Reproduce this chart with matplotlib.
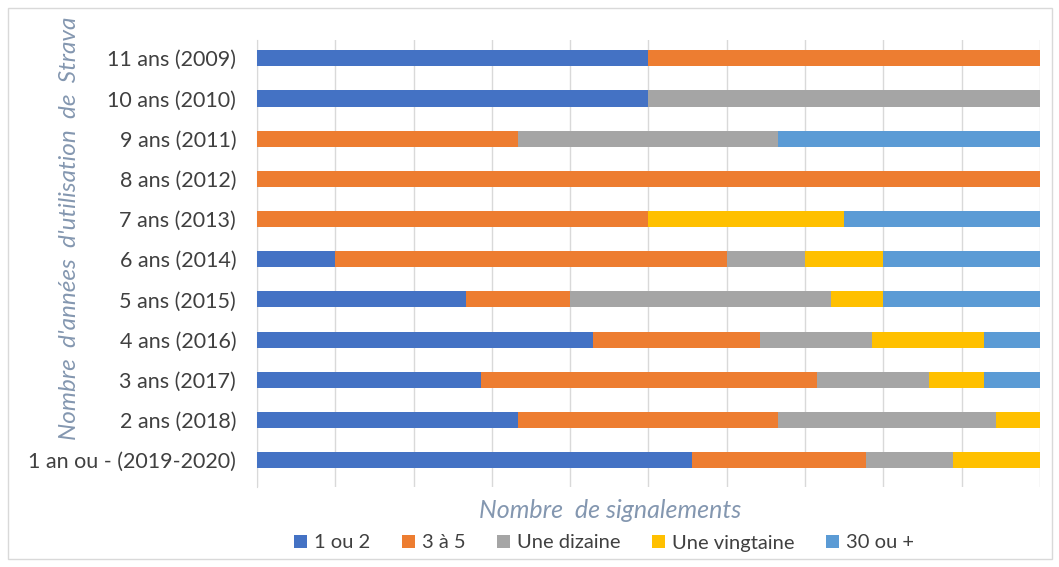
import matplotlib.pyplot as plt
from matplotlib.patches import Rectangle

# data (percent of reports per group), bottom to top
categories = ["1 an ou - (2019-2020)", "2 ans (2018)", "3 ans (2017)", "4 ans (2016)",
              "5 ans (2015)", "6 ans (2014)", "7 ans (2013)", "8 ans (2012)",
              "9 ans (2011)", "10 ans (2010)", "11 ans (2009)"]
un_ou_deux = [55.6, 33.3, 28.6, 42.9, 26.7, 10.0, 0.0, 0.0, 0.0, 50.0, 50.0]
trois_a_cinq = [22.2, 33.3, 42.9, 21.4, 13.3, 50.0, 50.0, 100.0, 33.3, 0.0, 50.0]
une_dizaine = [11.1, 27.8, 14.3, 14.3, 33.3, 10.0, 0.0, 0.0, 33.3, 50.0, 0.0]
une_vingtaine = [11.1, 5.6, 7.1, 14.3, 6.7, 10.0, 25.0, 0.0, 0.0, 0.0, 0.0]
trente_plus = [0.0, 0.0, 7.1, 7.1, 20.0, 20.0, 25.0, 0.0, 33.4, 0.0, 0.0]

series_names = ["1 ou 2", "3 à 5", "Une dizaine", "Une vingtaine", "30 ou +"]
series = [un_ou_deux, trois_a_cinq, une_dizaine, une_vingtaine, trente_plus]
colors = ["#4472C4", "#ED7D31", "#A5A5A5", "#FFC000", "#5B9BD5"]

plt.rcParams['font.family'] = ['Lato', 'DejaVu Sans']

fig = plt.figure(figsize=(10.59, 5.67), dpi=100)
ax = fig.add_axes([0.2427, 0.141, 0.7393, 0.788])

y = list(range(len(categories)))
left = [0.0] * len(categories)
for name, vals, col in zip(series_names, series, colors):
    ax.barh(y, vals, left=left, height=0.4, color=col, label=name, zorder=3)
    left = [a + b for a, b in zip(left, vals)]

ax.set_xlim(0, 100)
ax.set_ylim(-0.67, 10.45)
ax.set_xticks(range(0, 101, 10))
ax.set_xticklabels([])
ax.tick_params(axis="x", length=0)
ax.tick_params(axis="y", length=0, labelsize=15.5, labelcolor="#404040", pad=15)
ax.set_yticks(y)
ax.set_yticklabels(categories)
ax.grid(axis="x", color="#D9D9D9", linewidth=1, zorder=0)
for s in ["top", "right", "bottom"]:
    ax.spines[s].set_visible(False)
ax.spines["left"].set_color("#D9D9D9")

fig.text(610 / 1059, 1 - 511 / 567, "Nombre  de signalements", ha="center", va="center",
         fontsize=18, style="italic", color="#8497B0")
fig.text(70 / 1059, 1 - 228 / 567, "Nombre  d'années  d'utilisation  de  Strava", ha="center",
         va="center", rotation=90, fontsize=17.5, style="italic", color="#8497B0")

fig.legend(loc="center", bbox_to_anchor=(604 / 1059, 1 - 543 / 567), ncol=5, frameon=False,
           fontsize=14.5, handlelength=0.65, handleheight=0.65, handletextpad=0.35,
           columnspacing=1.55, labelcolor="#404040")

fig.patches.append(Rectangle((8 / 1059, 8 / 567), 1044 / 1059, 551 / 567, transform=fig.transFigure,
                             fill=False, edgecolor="#D9D9D9", linewidth=1))

plt.savefig("out.png", dpi=100)
